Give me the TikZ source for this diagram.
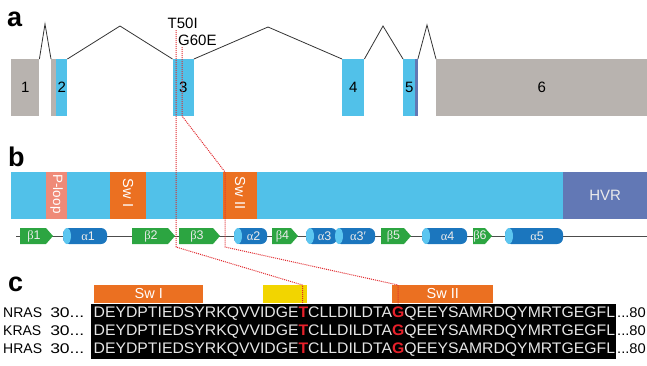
\documentclass[tikz,border=0pt]{standalone}
\usepackage{fontspec}
\setmainfont{Liberation Sans}
\newfontfamily\grk{Liberation Serif}
\definecolor{cyanbar}{HTML}{51C1E9}
\definecolor{exgray}{HTML}{B8B3AF}
\definecolor{hvrblue}{HTML}{6278B5}
\definecolor{ploopc}{HTML}{EF8A78}
\definecolor{swor}{HTML}{EB7021}
\definecolor{yel}{HTML}{F2D500}
\definecolor{bgreen}{HTML}{2CA541}
\definecolor{hblue}{HTML}{1B76BE}
\definecolor{hcap}{HTML}{5CC6F0}
\definecolor{mred}{HTML}{E0282C}
\definecolor{seqred}{HTML}{E8202A}
\definecolor{seqtext}{HTML}{E6E6E6}
\newcommand\mybeta[4]{%
  \fill[bgreen] (#2,228) -- (#3-7,228) -- (#3,236) -- (#3-7,244) -- (#2,244) -- cycle;
  \node[sslab] (#1) at ({(#2+#3-7)/2+1},236) {#4};}
\newcommand\myhelix[4]{%
  \fill[hblue,rounded corners=6pt] (#2,228) rectangle (#3,244);
  \fill[hcap] (#2+4,236) ellipse [x radius=4pt, y radius=8pt];
  \node[sslab] (#1) at ({(#2+#3)/2+3},236) {#4};}
\begin{document}
\begin{tikzpicture}[x=1pt,y=-1pt,
  panlab/.style={font=\fontsize{27}{27}\selectfont\bfseries, anchor=base west, inner sep=0},
  exon/.style={anchor=north west, inner sep=0, minimum height=57pt, font=\fontsize{15}{15}\selectfont},
  intron/.style={draw=black!80, line width=0.8pt},
  mut/.style={draw=mred, densely dotted, line width=1pt},
  mutlab/.style={font=\fontsize{15}{15}\selectfont, anchor=base west, inner sep=0},
  boxlab/.style={font=\fontsize{14.5}{14.5}\selectfont, text=white, inner sep=0},
  sslab/.style={font=\fontsize{12.5}{12.5}\selectfont, text=white!92!black, inner sep=0},
  seq/.style={font=\fontsize{15.3}{15.3}\selectfont, text=seqtext, anchor=base west, inner sep=0, xscale=1.03},
  rowlab/.style={font=\fontsize{14}{14}\selectfont, anchor=base west, inner sep=0}]
\useasboundingbox (0,0) rectangle (647,365);
% ---------- panel a ----------
\node[panlab] (la) at (7,26) {a};
\node[exon, fill=exgray, minimum width=28pt] (e1) at (11,59) {1};
\node[exon, fill=exgray, minimum width=5pt] (e2g) at (51,59) {};
\node[exon, fill=cyanbar, minimum width=11pt] (e2) at (56,59) {2};
\node[exon, fill=cyanbar, minimum width=21pt] (e3) at (172.5,59) {3};
\node[exon, fill=cyanbar, minimum width=22pt] (e4) at (342,59) {4};
\node[exon, fill=cyanbar, minimum width=12pt] (e5) at (403,59) {5};
\node[exon, fill=hvrblue, minimum width=2.5pt] (e5b) at (415,59) {};
\node[exon, fill=exgray, minimum width=211pt] (e6) at (436,59) {6};
\draw[intron] (e1.north east) -- (45,24) -- (e2g.north west);
\draw[intron] (e2.north east) -- (120,26) -- (e3.north west);
\draw[intron] (e3.north east) -- (268,27) -- (e4.north west);
\draw[intron] (e4.north east) -- (383,26) -- (e5.north west);
\draw[intron] (e5b.north east) -- (427,25) -- (e6.north west);
\node[mutlab] (t50) at (167.5,28) {T50I};
\node[mutlab] (g60) at (178,45) {G60E};
% ---------- panel b ----------
\node[panlab] (lb) at (8,166) {b};
\node[anchor=north west, inner sep=0, fill=cyanbar, minimum width=552pt, minimum height=47pt] (bar) at (11,172) {};
\node[anchor=north west, inner sep=0, fill=hvrblue, minimum width=84pt, minimum height=47pt, font=\fontsize{15}{15}\selectfont, text=white!92!black] (hvr) at (563,172) {HVR};
\fill[ploopc] (45.5,172) rectangle (67,219);
\fill[swor] (110,172) rectangle (146,219);
\fill[swor] (223,172) rectangle (257,219);
\node[boxlab, rotate=-90, font=\fontsize{13.5}{13.5}\selectfont] (pl) at (56.5,194) {P-loop};
\node[boxlab, rotate=-90] (sw1b) at (128,193) {Sw I};
\node[boxlab, rotate=-90] (sw2b) at (240,193) {Sw II};
\draw[black!70, line width=0.6pt] (16,236) -- (647,236);
\mybeta{b1}{20}{53}{{\grk β}1}
\myhelix{a1}{63}{107}{{\grk α}1}
\mybeta{b2}{132}{175}{{\grk β}2}
\mybeta{b3}{179}{220}{{\grk β}3}
\myhelix{a2}{234}{267}{{\grk α}2}
\mybeta{b4}{272}{298}{{\grk β}4}
\myhelix{a3}{306}{337}{{\grk α}3}
\myhelix{a3p}{335}{375}{{\grk α}3′}
\mybeta{b5}{381}{411}{{\grk β}5}
\myhelix{a4}{422}{467}{{\grk α}4}
\mybeta{b6}{473}{492}{{\grk β}6}
\myhelix{a5}{505}{563}{{\grk α}5}
% ---------- panel c ----------
\node[panlab] (lc) at (8,291) {c};
\node[anchor=north west, inner sep=0, fill=swor, minimum width=109pt, minimum height=18.5pt] (sw1c) at (94,284.5) {};
\node[boxlab] at (sw1c.center) {Sw I};
\node[anchor=north west, inner sep=0, fill=yel, minimum width=44pt, minimum height=18.5pt] (yb) at (263,284.5) {};
\node[anchor=north west, inner sep=0, fill=swor, minimum width=101pt, minimum height=18.5pt] (sw2c) at (392,284.5) {};
\node[boxlab] at (sw2c.center) {Sw II};
\node[rowlab] (nr) at (3,317) {NRAS};
\node[rowlab] (kr) at (3,335) {KRAS};
\node[rowlab] (hr) at (3,353) {HRAS};
\node[rowlab, xscale=1.25] (n30) at (50,317) {30...};
\node[rowlab, xscale=1.25] (k30) at (50,335) {30...};
\node[rowlab, xscale=1.25] (h30) at (50,353) {30...};
\node[anchor=north west, inner sep=0, fill=black, minimum width=525pt, minimum height=55.5pt] (seqbox) at (91,303.5) {};
\foreach \y/\n in {317/sN,335/sK,353/sH}{
  \node[seq] (\n) at (93.5,\y) {DEYDPTIEDSYRKQVVIDGE\textcolor{seqred}{\bfseries T}CLLDILDTA\textcolor{seqred}{\bfseries G}QEEYSAMRDQYMRTGEGFL};
}
\node[rowlab, xscale=1.05] (n80) at (617,317) {...80};
\node[rowlab, xscale=1.05] (k80) at (617,335) {...80};
\node[rowlab, xscale=1.05] (h80) at (617,353) {...80};
% ---------- mutation guides ----------
\coordinate (m1a) at (176,30);
\coordinate (m1b) at (176,247);
\coordinate (m1c) at (302.5,285);
\coordinate (m1d) at (302.5,303.5);
\coordinate (m2a) at (182,47);
\coordinate (m2b) at (182,116);
\coordinate (m2c) at (225,172);
\coordinate (m2d) at (225,247);
\coordinate (m2e) at (398,285);
\coordinate (m2f) at (398,303.5);
\draw[mut] (m1a) -- (m1b) -- (m1c) -- (m1d);
\draw[mut] (m2a) -- (m2b) -- (m2c) -- (m2d) -- (m2e) -- (m2f);
\end{tikzpicture}
\end{document}
